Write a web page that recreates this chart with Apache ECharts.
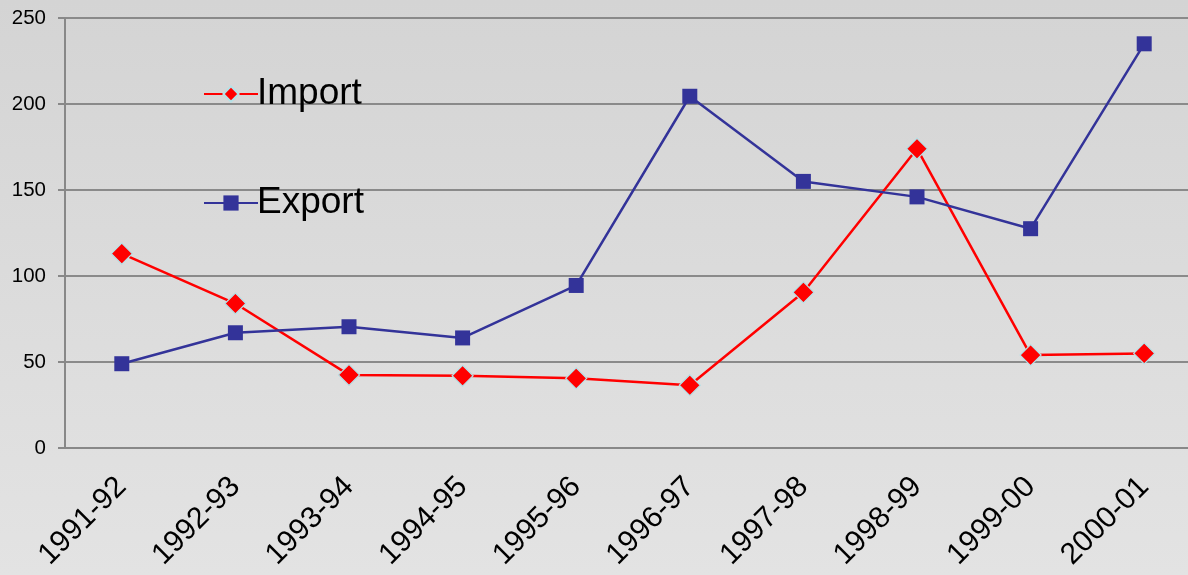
<!DOCTYPE html>
<html>
<head>
<meta charset="utf-8">
<title>Import / Export</title>
<script src="https://cdn.jsdelivr.net/npm/echarts@6/dist/echarts.min.js"></script>
<style>
  html, body { margin: 0; padding: 0; overflow: hidden; }
  /* the plot runs a little past the right edge of the picture */
  #chart { width: 1201px; height: 575px; }
</style>
</head>
<body>
<div id="chart"></div>
<script>
// data
const years = ["1991-92", "1992-93", "1993-94", "1994-95", "1995-96",
  "1996-97", "1997-98", "1998-99", "1999-00", "2000-01"];
const importVals = [113, 84, 42.5, 42, 40.5, 36.5, 90.5, 174, 54, 55];
const exportVals = [49, 67, 70.5, 64, 94.5, 204.5, 155, 146, 127.5, 235];

const chart = echarts.init(document.getElementById("chart"));

const option = {
  animation: false,
  backgroundColor: {
    type: "linear", x: 0, y: 0, x2: 0, y2: 1,
    colorStops: [
      { offset: 0, color: "#d4d4d4" },
      { offset: 1, color: "#e3e3e3" },
    ],
  },
  grid: { left: 65, right: 0, top: 18, bottom: 127 },
  legend: {
    orient: "vertical",
    left: 198,
    top: 69,
    itemWidth: 54,
    itemHeight: 19,
    itemGap: 69,
    textStyle: {
      fontSize: 37, lineHeight: 40, color: "#000",
      fontFamily: "Liberation Sans", padding: [0, 0, 0, -6],
    },
    data: ["Import", "Export"],
  },
  xAxis: {
    type: "category",
    data: years,
    axisLine: { lineStyle: { color: "#888", width: 2 } },
    axisTick: { length: 8, lineStyle: { color: "#888", width: 2 } },
    axisLabel: {
      rotate: 45,
      fontSize: 30,
      color: "#000",
      fontFamily: "Liberation Sans",
      margin: 34,
      interval: 0,
    },
  },
  yAxis: {
    type: "value",
    min: 0,
    max: 250,
    interval: 50,
    axisLine: { show: true, lineStyle: { color: "#888", width: 2 } },
    axisTick: { show: true, length: 7, lineStyle: { color: "#888", width: 2 } },
    splitLine: { lineStyle: { color: "#8a8a8a", width: 2 } },
    axisLabel: { fontSize: 20.5, color: "#000", fontFamily: "Liberation Sans", margin: 19 },
  },
  series: [
    {
      name: "Import",
      type: "line",
      data: importVals,
      symbol: "diamond",
      symbolSize: 21,
      lineStyle: { color: "#ff0000", width: 2.5 },
      itemStyle: { color: "#ff0000", borderColor: "#b4e2e8", borderWidth: 1.2 },
    },
    {
      name: "Export",
      type: "line",
      data: exportVals,
      symbol: "rect",
      symbolSize: 15,
      lineStyle: { color: "#333399", width: 2.5 },
      itemStyle: { color: "#333399" },
    },
  ],
};

chart.setOption(option);
</script>
</body>
</html>
